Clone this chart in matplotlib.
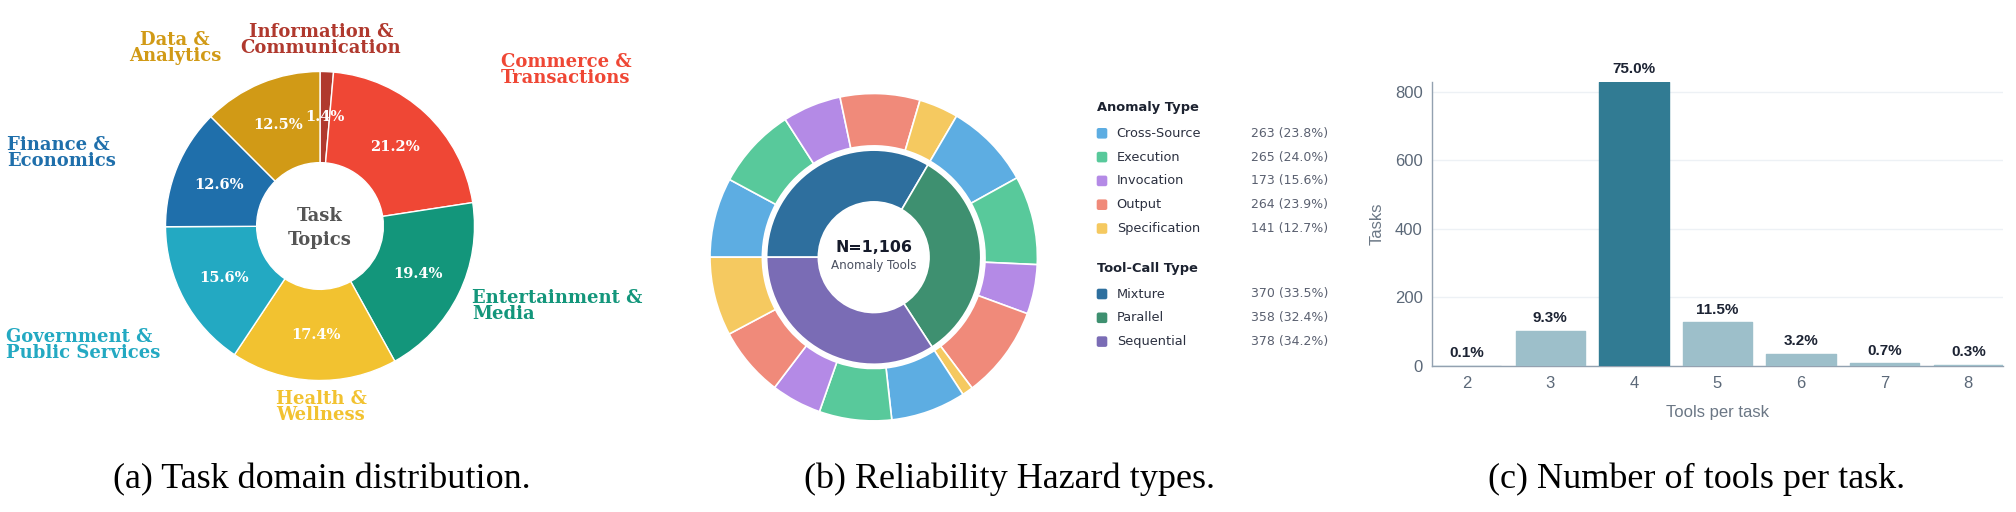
#Figura con tres paneles: dona de temas, dona doble de anomalias y barras de herramientas
import matplotlib
matplotlib.use("Agg")   #Sin pantalla, solo guardamos el png
import matplotlib.pyplot as plt
from matplotlib.patches import FancyBboxPatch

#----------------------------Datos panel (a)------------------------------
temas = ["Information &\nCommunication", "Commerce &\nTransactions", "Entertainment &\nMedia",
         "Health &\nWellness", "Government &\nPublic Services", "Finance &\nEconomics",
         "Data &\nAnalytics"]
temas_pct = [1.4, 21.2, 19.4, 17.4, 15.6, 12.6, 12.5]
temas_colores = ["#b0392e", "#ef4735", "#13967b", "#f2c230", "#23a9c2", "#1f6fab", "#d19a16"]

#----------------------------Datos panel (b)------------------------------
anomalias = ["Cross-Source", "Execution", "Invocation", "Output", "Specification"]
anomalia_colores = ["#5dade2", "#58c99b", "#b48ae6", "#f08a7a", "#f5c960"]
tipos_llamada = ["Mixture", "Parallel", "Sequential"]
tipo_colores = ["#2e6f9e", "#3e9070", "#7a6cb5"]
#conteos de cada anomalia dentro de cada tipo de llamada
mixture_conteos = [87, 89, 64, 87, 43]
parallel_conteos = [94, 97, 54, 101, 12]
sequential_conteos = [82, 79, 55, 76, 86]

#----------------------------Datos panel (c)------------------------------
herramientas = [2, 3, 4, 5, 6, 7, 8]
tareas = [1, 103, 829, 127, 35, 8, 3]

#----------------------------Figura-------------------------------------
W, H = 2016, 512
fig = plt.figure(figsize=(W / 100, H / 100), dpi=100)

#Funcion para crear ejes usando pixeles (x0, y0 arriba-izquierda)
def ejes_px(x0, y0, x1, y1):
    return fig.add_axes([x0 / W, 1 - y1 / H, (x1 - x0) / W, (y1 - y0) / H])

serif = ["DejaVu Serif"]
sans = ["DejaVu Sans"]
arial = ["Liberation Sans", "DejaVu Sans"]

#----------------------------Panel (a)-----------------------------------
cx1, cy1, R1 = 320, 226, 154.5   #centro y radio en pixeles
ax1 = ejes_px(0, 0, 650, 440)
ax1.pie(temas_pct, colors=temas_colores, startangle=90, counterclock=False,
        wedgeprops=dict(width=0.59, edgecolor="white", linewidth=1),
        autopct="%.1f%%", pctdistance=0.705,
        textprops=dict(color="white", fontweight="bold", fontsize=10.5, family=serif))
ax1.set_xlim(-cx1 / R1, (650 - cx1) / R1)
ax1.set_ylim(-(440 - cy1) / R1, cy1 / R1)
ax1.set_aspect("auto")

#posicion de cada etiqueta (pixeles) y su alineacion
etiquetas_pos = [(321, 40, "center"), (501, 70, "left"), (472, 306, "left"),
                 (321, 407, "center"), (6, 345, "left"), (7.5, 153, "left"),
                 (175, 48, "center")]
for texto, color, (px, py, al) in zip(temas, temas_colores, etiquetas_pos):
    ax1.text((px - cx1) / R1, (cy1 - py) / R1, texto, color=color, ha=al, va="center",
             multialignment=al, fontsize=13, fontweight="bold", family=serif, linespacing=0.9)
ax1.text(0, -0.013, "Task\nTopics", ha="center", va="center", color="#555555",
         fontsize=13, fontweight="bold", family=serif, linespacing=1.38)

#----------------------------Panel (b)-----------------------------------
cx2, cy2, R2 = 873.7, 257.2, 163.7
ax2 = ejes_px(cx2 - 180, cy2 - 180, cx2 + 180, cy2 + 180)
externos = mixture_conteos + parallel_conteos + sequential_conteos
internos = [sum(mixture_conteos), sum(parallel_conteos), sum(sequential_conteos)]
ax2.pie(externos, colors=anomalia_colores * 3, radius=1, startangle=180, counterclock=False,
        wedgeprops=dict(width=0.32, edgecolor="white", linewidth=1.2))
ax2.pie(internos, colors=tipo_colores, radius=0.654, startangle=180, counterclock=False,
        wedgeprops=dict(width=0.316, edgecolor="white", linewidth=1.2))
ax2.set_xlim(-180 / R2, 180 / R2)
ax2.set_ylim(-180 / R2, 180 / R2)
total = sum(externos)
ax2.text(0, 0.06, f"N={total:,}", ha="center", va="center", fontsize=11.4,
         fontweight="bold", color="#161b2b", family=sans)
ax2.text(0, -0.052, "Anomaly Tools", ha="center", va="center", fontsize=8.6,
         color="#4a5060", family=sans)

#Leyenda dibujada a mano en unos ejes con unidades de pixel
lax = ejes_px(1080, 90, 1360, 360)
lax.set_xlim(1080, 1360)
lax.set_ylim(360, 90)
lax.axis("off")

totales_anomalia = [a + b + c for a, b, c in zip(mixture_conteos, parallel_conteos, sequential_conteos)]

def grupo_leyenda(titulo, y_titulo, y_fila, nombres, valores, colores):
    lax.text(1096.7, y_titulo, titulo, ha="left", va="center", fontsize=9.4,
             fontweight="bold", color="#1c2230", family=sans)
    for i in range(len(nombres)):
        y = y_fila + i * 23.8
        lax.add_patch(FancyBboxPatch((1096.7, y - 5.3), 10.6, 10.6,
                                     boxstyle="round,pad=0,rounding_size=2",
                                     facecolor=colores[i], edgecolor="none"))
        lax.text(1116.7, y, nombres[i], ha="left", va="center", fontsize=9.3,
                 color="#2b3040", family=sans)
        lax.text(1250.7, y, f"{valores[i]} ({valores[i] / total * 100:.1f}%)", ha="left",
                 va="center", fontsize=9, color="#5a6070", family=sans)

grupo_leyenda("Anomaly Type", 107.3, 133.3, anomalias, totales_anomalia, anomalia_colores)
grupo_leyenda("Tool-Call Type", 268.3, 294, tipos_llamada, internos, tipo_colores)

#----------------------------Panel (c)-----------------------------------
ax3 = ejes_px(1432.3, 81.7, 2003, 366)
maximo = max(tareas)
colores_barras = ["#317b93" if t == maximo else "#9dbfca" for t in tareas]
ax3.bar(herramientas, tareas, width=0.83, color=colores_barras, edgecolor=colores_barras,
        linewidth=1, joinstyle="round", zorder=3)
ax3.set_xlim(1.59, 8.415)
ax3.set_ylim(0, maximo)
ax3.set_yticks([0, 200, 400, 600, 800])
ax3.set_xticks(herramientas)
ax3.grid(axis="y", color="#edf1f5", linewidth=1, zorder=0)
for lado in ["top", "right"]:
    ax3.spines[lado].set_visible(False)
for lado in ["left", "bottom"]:
    ax3.spines[lado].set_color("#93a1b0")
    ax3.spines[lado].set_linewidth(1)
ax3.tick_params(length=0, labelsize=12, labelcolor="#5b6878", pad=7)
for t in ax3.get_xticklabels() + ax3.get_yticklabels():
    t.set_family(arial)
ax3.set_ylabel("Tasks", fontsize=12, color="#6b7785", family=arial, va="center")
ax3.yaxis.set_label_coords(-0.0964, 0.5)
ax3.set_xlabel("Tools per task", fontsize=12, color="#6b7785", family=arial, va="center")
ax3.xaxis.set_label_coords(0.5, -0.165)
suma = sum(tareas)
for x, t in zip(herramientas, tareas):
    ax3.annotate(f"{t / suma * 100:.1f}%", (x, t), xytext=(0, 9), textcoords="offset points",
                 ha="center", va="center", fontsize=11, fontweight="bold", color="#1c2333",
                 family=arial, annotation_clip=False)

#----------------------------Titulos de los paneles----------------------
titulos = ["(a) Task domain distribution.", "(b) Reliability Hazard types.",
           "(c) Number of tools per task."]
for texto, xc in zip(titulos, [322, 1009, 1697]):
    fig.text(xc / W, 1 - 488.5 / H, texto, ha="center", va="baseline", fontsize=26,
             family=["Liberation Serif", "DejaVu Serif"], color="black")

fig.savefig("out.png", dpi=100)
